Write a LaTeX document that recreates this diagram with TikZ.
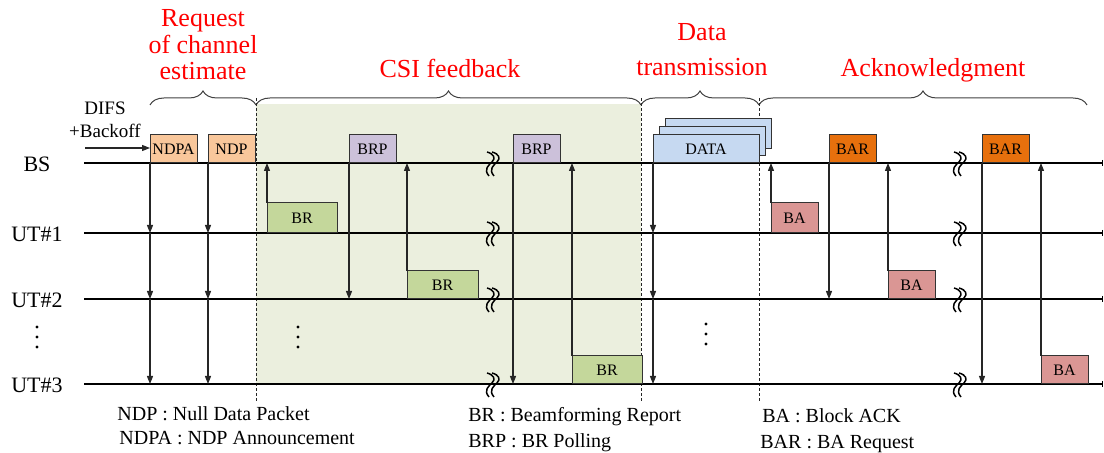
\documentclass[tikz,border=0pt]{standalone}
\usepackage{fontspec}
\setmainfont{Liberation Serif}
\usetikzlibrary{arrows.meta,decorations.pathreplacing}
\definecolor{ndpcol}{HTML}{F9C79B}
\definecolor{brpcol}{HTML}{CCC1DA}
\definecolor{brcol}{HTML}{C4D79B}
\definecolor{datacol}{HTML}{C6D9F1}
\definecolor{barcol}{HTML}{E7700D}
\definecolor{bacol}{HTML}{DA9694}
\definecolor{shadecol}{HTML}{EBEFDE}
\begin{document}
\begin{tikzpicture}[x=0.5pt,y=-0.5pt,
  lane/.style={line width=0.6pt, draw=black, -{Bar[width=3pt,line width=0.6pt]}},
  pkt/.style={draw=black!80, line width=0.5pt, inner sep=0pt, outer sep=0pt, anchor=south west, font=\fontsize{8}{9}\selectfont},
  arr/.style={line width=0.55pt, draw=black!85, -{Triangle[length=4pt,width=3pt]}},
  sepline/.style={line width=0.5pt, draw=black!85, dash pattern=on 1.5pt off 1pt},
  ttl/.style={text=red, font=\fontsize{13}{13}\selectfont, anchor=base, inner sep=0pt},
  lbl/.style={font=\fontsize{11}{13}\selectfont, inner sep=0pt},
  leg/.style={font=\fontsize{10}{12}\selectfont, anchor=base west, inner sep=0pt},
  brc/.style={decorate, decoration={brace, amplitude=7pt}, draw=black!75, line width=0.5pt},
  brk/.pic={
    \draw[line width=0.75pt] (-5,-11) .. controls (2,-9) and (4,-5) .. (0,-1) .. controls (-3,2) and (-9,6) .. (-3,13);
    \draw[line width=0.75pt] (0,-11) .. controls (7,-9) and (9,-5) .. (5,-1) .. controls (2,2) and (-4,6) .. (2,13);
  }
]
\useasboundingbox (0,0) rectangle (1104,453);

% shaded CSI region
\fill[shadecol] (256,104) rectangle (641,384);

% titles
\node[ttl] (t1a) at (203,27) {Request};
\node[ttl] (t1b) at (203,54) {of channel};
\node[ttl] (t1c) at (203,80) {estimate};
\node[ttl] (t2) at (450,78) {CSI feedback};
\node[ttl] (t3a) at (702,41) {Data};
\node[ttl] (t3b) at (702,76) {transmission};
\node[ttl] (t4) at (933,77) {Acknowledgment};

% braces
\coordinate (b0) at (150,105);
\coordinate (b1) at (256,105);
\coordinate (b2) at (641,105);
\coordinate (b3) at (759,105);
\coordinate (b4) at (1087,105);
\draw[brc] (b0) -- (b1);
\draw[brc] (b1) -- (b2);
\draw[brc] (b2) -- (b3);
\draw[brc] (b3) -- (b4);

% separators
\coordinate (s1b) at (256,402);
\coordinate (s2b) at (641,402);
\coordinate (s3b) at (759,402);
\draw[sepline] (256,98) -- (s1b);
\draw[sepline] (641,98) -- (s2b);
\draw[sepline] (759,98) -- (s3b);

% lane labels
\node[lbl] (bs) at (37,164) {BS};
\node[lbl] (ut1) at (37,234) {UT\#1};
\node[lbl] (ut2) at (37,300) {UT\#2};
\node[lbl] (ut3) at (37,385) {UT\#3};
\foreach \yy in {327,337,347} \fill (37,\yy) circle (0.85pt);
\foreach \yy in {327,337,347} \fill (298,\yy) circle (0.85pt);
\foreach \yy in {324,334,344} \fill (706,\yy) circle (0.85pt);

% lanes
\coordinate (bsL) at (84,163);  \coordinate (bsR) at (1103,163);
\coordinate (u1L) at (84,233);  \coordinate (u1R) at (1103,233);
\coordinate (u2L) at (84,299);  \coordinate (u2R) at (1103,299);
\coordinate (u3L) at (84,384);  \coordinate (u3R) at (1103,384);
\draw[lane] (bsL) -- (bsR);
\draw[lane] (u1L) -- (u1R);
\draw[lane] (u2L) -- (u2R);
\draw[lane] (u3L) -- (u3R);

% packets
\node[pkt, fill=ndpcol, minimum width=23.5pt, minimum height=14pt] (ndpa) at (150,163) {NDPA};
\node[pkt, fill=ndpcol, minimum width=23.5pt, minimum height=14pt] (ndp) at (208,163) {NDP};
\node[pkt, fill=brpcol, minimum width=23.5pt, minimum height=14pt] (brp1) at (349,163) {BRP};
\node[pkt, fill=brpcol, minimum width=23.5pt, minimum height=14pt] (brp2) at (513,163) {BRP};
\node[pkt, fill=brcol, minimum width=35pt, minimum height=15pt] (br1) at (267,233) {BR};
\node[pkt, fill=brcol, minimum width=35.5pt, minimum height=14pt] (br2) at (407,299) {BR};
\node[pkt, fill=brcol, minimum width=35pt, minimum height=14pt] (br3) at (572,384) {BR};
\node[pkt, fill=datacol, minimum width=53pt, minimum height=15pt] (data3) at (665,149) {};
\node[pkt, fill=datacol, minimum width=53pt, minimum height=14.5pt] (data2) at (659,156) {};
\node[pkt, fill=datacol, minimum width=53pt, minimum height=14pt] (data) at (653,163) {DATA};
\node[pkt, fill=barcol, minimum width=23.5pt, minimum height=14pt] (bar1) at (829,163) {BAR};
\node[pkt, fill=barcol, minimum width=23.5pt, minimum height=14pt] (bar2) at (982,163) {BAR};
\node[pkt, fill=bacol, minimum width=23.5pt, minimum height=15pt] (ba1) at (771,233) {BA};
\node[pkt, fill=bacol, minimum width=23.5pt, minimum height=14pt] (ba2) at (888,299) {BA};
\node[pkt, fill=bacol, minimum width=23.5pt, minimum height=14pt] (ba3) at (1041,384) {BA};

% DIFS
\node[font=\fontsize{9.5}{11}\selectfont, anchor=base, inner sep=0pt] (difs1) at (105,115) {DIFS};
\node[font=\fontsize{9.5}{11}\selectfont, anchor=base, inner sep=0pt] (difs2) at (105,138) {+Backoff};
\coordinate (difsS) at (85,148);
\draw[arr] (difsS) -- (difsS -| ndpa.west);

% NDPA / NDP broadcast
\draw[arr] (ndpa.south west) -- (ndpa.south west |- u1L);
\draw[arr] (ndpa.south west |- u1L) -- (ndpa.south west |- u2L);
\draw[arr] (ndpa.south west |- u2L) -- (ndpa.south west |- u3L);
\draw[arr] (ndp.south west) -- (ndp.south west |- u1L);
\draw[arr] (ndp.south west |- u1L) -- (ndp.south west |- u2L);
\draw[arr] (ndp.south west |- u2L) -- (ndp.south west |- u3L);

% CSI feedback
\draw[arr] (br1.north west) -- (br1.north west |- bsL);
\draw[arr] (brp1.south west) -- (brp1.south west |- u2L);
\draw[arr] (br2.north west) -- (br2.north west |- bsL);
\draw[arr] (brp2.south west) -- (brp2.south west |- u3L);
\draw[arr] (br3.north west) -- (br3.north west |- bsL);

% data
\draw[arr] (data.south west) -- (data.south west |- u1L);
\draw[arr] (data.south west |- u1L) -- (data.south west |- u2L);
\draw[arr] (data.south west |- u2L) -- (data.south west |- u3L);

% acknowledgment
\draw[arr] (ba1.north west) -- (ba1.north west |- bsL);
\draw[arr] (bar1.south west) -- (bar1.south west |- u2L);
\draw[arr] (ba2.north west) -- (ba2.north west |- bsL);
\draw[arr] (bar2.south west) -- (bar2.south west |- u3L);
\draw[arr] (ba3.north west) -- (ba3.north west |- bsL);

% breaks
\foreach \yy in {163,233,299,384} {
  \pic at (492,\yy) {brk};
  \pic at (959,\yy) {brk};
}

% legend
\node[leg] (l1) at (117,421) {NDP : Null Data Packet};
\node[leg] (l2) at (119,445) {NDPA : NDP Announcement};
\node[leg] (l3) at (468,422) {BR : Beamforming Report};
\node[leg] (l4) at (468,448) {BRP : BR Polling};
\node[leg] (l5) at (762,423) {BA : Block ACK};
\node[leg] (l6) at (760,449) {BAR : BA Request};
\end{tikzpicture}
\end{document}
